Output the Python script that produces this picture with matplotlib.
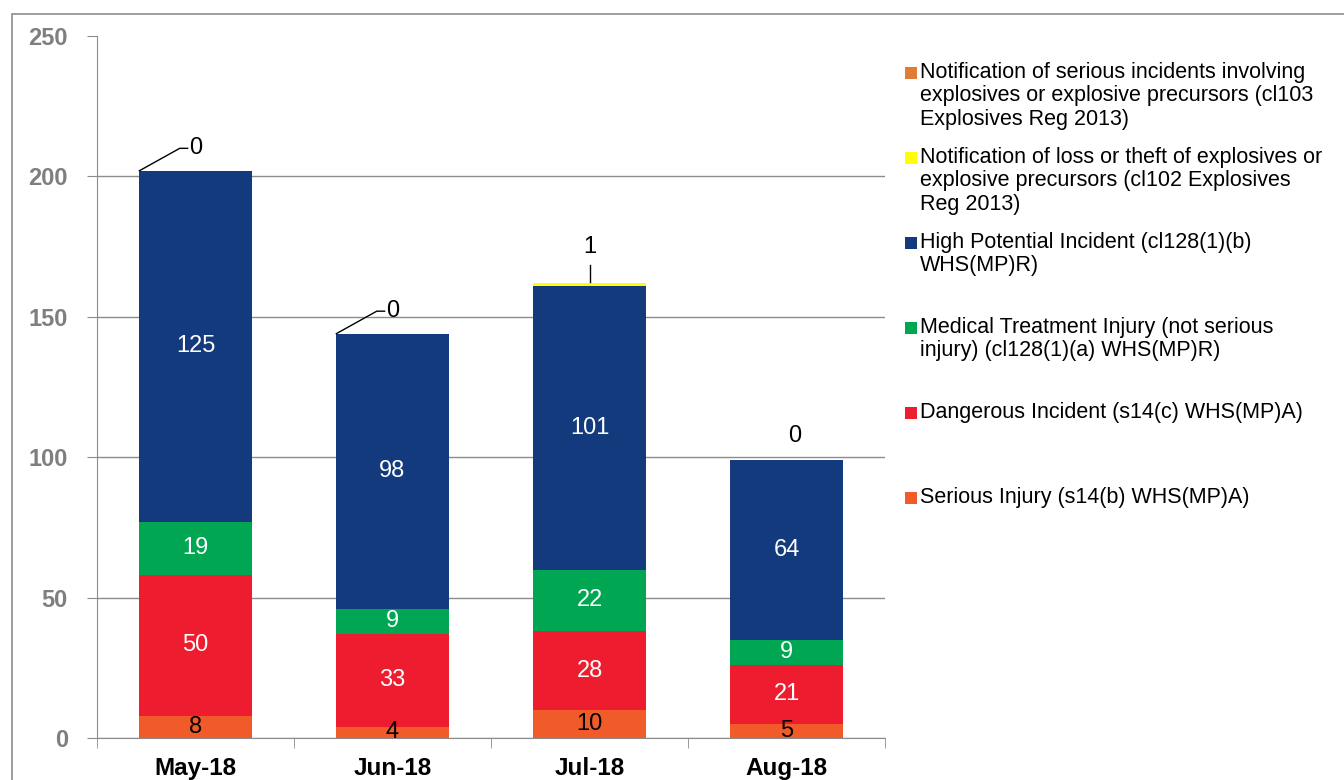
import matplotlib.pyplot as plt
from matplotlib.patches import Rectangle
import numpy as np

plt.rcParams['font.family'] = ['Liberation Sans', 'DejaVu Sans']

# datos
months = ["May-18", "Jun-18", "Jul-18", "Aug-18"]
serious_injury = [8, 4, 10, 5]
dangerous_incident = [50, 33, 28, 21]
medical_treatment = [19, 9, 22, 9]
high_potential = [125, 98, 101, 64]
loss_theft = [0, 0, 1, 0]
serious_explosive = [0, 0, 0, 0]

series = [
    ("Serious Injury (s14(b) WHS(MP)A)", serious_injury, "#F15A29", "black"),
    ("Dangerous Incident (s14(c) WHS(MP)A)", dangerous_incident, "#ED1C2E", "white"),
    ("Medical Treatment Injury (not serious\ninjury) (cl128(1)(a) WHS(MP)R)", medical_treatment, "#00A651", "white"),
    ("High Potential Incident (cl128(1)(b)\nWHS(MP)R)", high_potential, "#133A7C", "white"),
    ("Notification of loss or theft of explosives or\nexplosive precursors (cl102 Explosives\nReg 2013)", loss_theft, "#FFFF00", None),
    ("Notification of serious incidents involving\nexplosives or explosive precursors (cl103\nExplosives Reg 2013)", serious_explosive, "#E07B39", None),
]

fig = plt.figure(figsize=(13.44, 7.8), dpi=100)
ax = fig.add_axes([97 / 1344, 42 / 780, 788 / 1344, 702 / 780])

x = np.arange(len(months))
w = 0.57
bottom = np.zeros(len(months))
for label, vals, color, txt_color in series:
    vals = np.array(vals, dtype=float)
    ax.bar(x, vals, w, bottom=bottom, color=color, zorder=3)
    if txt_color:
        for i, v in enumerate(vals):
            ax.text(x[i], bottom[i] + v / 2, f"{int(v)}", ha="center", va="center",
                    color=txt_color, fontsize=17, zorder=4)
    bottom += vals

# etiquetas de notificaciones arriba de cada barra
notif = np.array(loss_theft) + np.array(serious_explosive)
totals = bottom
for i in range(len(months)):
    t = totals[i]
    if i in (0, 1):
        xl = x[i] - w / 2
        ax.plot([xl, x[i] - 0.08, x[i] - 0.04], [t, t + 8, t + 8], color="black", lw=1, zorder=4)
        ax.text(x[i], t + 8, f"{int(notif[i])}", ha="center", va="center", fontsize=17)
    elif notif[i] > 0:
        ax.plot([x[i], x[i]], [t + 0.5, t + 6.5], color="black", lw=1, zorder=4)
        ax.text(x[i], t + 13, f"{int(notif[i])}", ha="center", va="center", fontsize=17)
    else:
        ax.text(x[i] + 0.04, t + 8.5, f"{int(notif[i])}", ha="center", va="center", fontsize=17)

ax.set_xlim(-0.5, len(months) - 0.5)
ax.set_ylim(0, 250)
ax.set_yticks([0, 50, 100, 150, 200, 250])
ax.yaxis.grid(True, color="#8C8C8C", lw=1, zorder=0)
ax.get_ygridlines()[-1].set_visible(False)
ax.tick_params(axis="y", length=7, color="#8C8C8C", labelsize=17, labelcolor="#7F7F7F", pad=14)
for lab in ax.get_yticklabels():
    lab.set_fontweight("bold")

ax.set_xticks(x)
ax.set_xticklabels(months, fontsize=17.5, fontweight="bold")
ax.set_xticks(np.arange(len(months) + 1) - 0.5, minor=True)
ax.tick_params(axis="x", which="major", length=0, pad=14)
ax.tick_params(axis="x", which="minor", length=7, color="#8C8C8C")

for s in ["top", "right"]:
    ax.spines[s].set_visible(False)
ax.spines["left"].set_color("#8C8C8C")
ax.spines["bottom"].set_color("#8C8C8C")

# leyenda manual
y0 = 73
for k, (label, vals, color, _) in enumerate(reversed(series)):
    yc = 1 - (y0 + k * 85) / 780
    fig.patches.append(Rectangle((905 / 1344, yc - 6 / 780), 12 / 1344, 12 / 780,
                                 transform=fig.transFigure, facecolor=color, edgecolor="none"))
    fig.text(920 / 1344, yc + 11 / 780, label, ha="left", va="top", fontsize=15.5,
             linespacing=1.15, color="black")

# borde exterior
fig.patches.append(Rectangle((12 / 1344, -0.1), 1.1, 1 - 14 / 780 + 0.1, transform=fig.transFigure,
                             fill=False, edgecolor="#8C8C8C", lw=1.2, clip_on=False))

plt.savefig("out.png", dpi=100)
